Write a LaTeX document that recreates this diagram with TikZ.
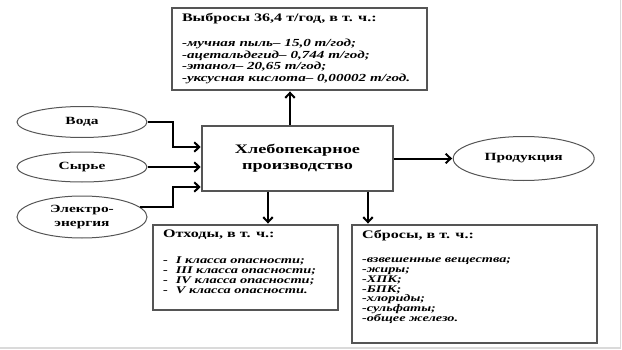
\documentclass[tikz,border=0pt]{standalone}
\usepackage{fontspec}
\setmainfont{Liberation Serif}[FakeStretch=1.4]
\usetikzlibrary{arrows.meta,positioning,shapes.geometric}
\definecolor{BoxGray}{HTML}{555555}
\definecolor{FrameGray}{HTML}{DADADA}
\tikzset{
  procbox/.style={draw=BoxGray,line width=1.4pt,minimum width=191pt,minimum height=65pt,align=center,inner sep=0pt,font=\fontsize{13}{16}\selectfont\bfseries},
  listbox/.style={draw=BoxGray,line width=1.7pt,inner xsep=10pt,inner ysep=5pt,fill=white,font=\bfseries\itshape},
  srcnode/.style={ellipse,draw=BoxGray,line width=1pt,minimum width=130pt,align=center,inner sep=0pt,font=\fontsize{11}{14}\selectfont\bfseries},
  flowarrow/.style={-{Straight Barb[length=5pt,width=9.5pt]},line width=2pt,draw=black,shorten >=0.6pt}
}

\begin{document}
\begin{tikzpicture}[x=1pt,y=1pt]
\useasboundingbox (0,0) rectangle (622,349);
\draw[FrameGray,line width=1.2pt] (0,1) -- (620.5,1) -- (620.5,349);
\node[procbox] (prod) at (297.5,190.5) {Хлебопекарное\\производство};
\node[srcnode,minimum width=141pt,minimum height=44pt,right=59pt of prod] (product) {Продукция};
\node[srcnode,minimum height=31pt] (water) at (82,227) {Вода};
\node[srcnode,minimum height=30pt] (raw) at (82,182) {Сырье};
\node[srcnode,minimum height=42pt] (power) at (82,132) {Электро-\\энергия};
\coordinate (elbow) at (173,0);
\node[listbox] (emis) at (299.5,300) {\parbox[c][72pt][t]{235pt}{\fontsize{10.8}{11.5}\selectfont
  {\upshape\fontsize{11.5}{13}\selectfont Выбросы 36,4 т/год, в т. ч.:}\\[14pt]
  -мучная пыль– 15,0 т/год;\\
  -ацетальдегид– 0,744 т/год;\\
  -этанол– 20,65 т/год;\\
  -уксусная кислота– 0,00002 т/год.}};
\node[listbox] (waste) at (245.5,81.5) {\parbox[c][75pt][t]{165pt}{\fontsize{10.3}{10}\selectfont
  {\upshape\fontsize{11.5}{13}\selectfont Отходы, в т. ч.:}\\[15.5pt]
  -\hspace{8pt}I класса опасности;\\
  -\hspace{8pt}III класса опасности;\\
  -\hspace{8pt}IV класса опасности;\\
  -\hspace{8pt}V класса опасности.}};
\node[listbox] (discharge) at (474.5,65) {\parbox[c][108pt][t]{225pt}{\fontsize{10.2}{9.7}\selectfont
  {\upshape\fontsize{11.5}{13}\selectfont Сбросы, в т. ч.:}\\[15pt]
  -взвешенные вещества;\\
  -жиры;\\
  -ХПК;\\
  -БПК;\\
  -хлориды;\\
  -сульфаты;\\
  -общее железо.}};
% inputs
\draw[flowarrow] (water.east) -- (water.east -| elbow) |- ([yshift=11.5pt]prod.west);
\draw[flowarrow] (raw.east) -- (raw.east -| prod.west);
\draw[flowarrow] (power.10) -- (power.10 -| elbow) |- ([yshift=-28.5pt]prod.west);
% outputs
\draw[flowarrow] (prod.east) -- (product.west);
\draw[flowarrow] ([xshift=-7.5pt]prod.north) -- ([xshift=-7.5pt]prod.north |- emis.south);
\draw[flowarrow] ([xshift=-29.5pt]prod.south) -- ([xshift=-29.5pt]prod.south |- waste.north);
\draw[flowarrow] ([xshift=70.5pt]prod.south) -- ([xshift=70.5pt]prod.south |- discharge.north);
\end{tikzpicture}
\end{document}
